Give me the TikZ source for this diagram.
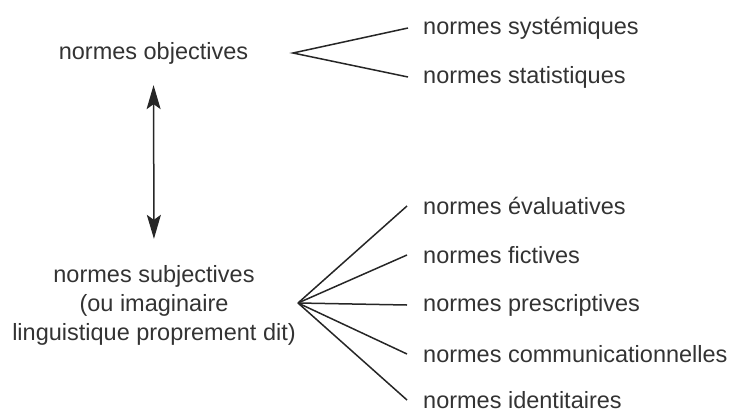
\documentclass[tikz,border=0pt]{standalone}
\usepackage{fontspec}
\setmainfont{Liberation Sans}
\usetikzlibrary{arrows.meta}

\begin{document}
\begin{tikzpicture}[x=1pt,y=-1pt,>={Stealth[length=24pt,width=14pt,inset=5pt]},
		every node/.style={inner sep=0pt,text=black!80,font=\fontsize{23.5}{29}\selectfont},
		norme/.style={anchor=west},
		trait/.style={line width=1.5pt,black!85}]
			%%%	Cadre
			\useasboundingbox (0,0) rectangle (731,413);
			%%%	Normes
			\node (obj) at (153.5,53) {normes objectives};
			\node[align=center] (subj) at (154,305) {normes subjectives\\(ou imaginaire\\linguistique proprement dit)};
			
			\node[norme] (syst) at (423,28) {normes systémiques};
			\node[norme] (stat) at (423,77) {normes statistiques};
			\node[norme] (eval) at (423,206) {normes évaluatives};
			\node[norme] (fict) at (423,255) {normes fictives};
			\node[norme] (presc) at (423,305) {normes prescriptives};
			\node[norme] (comm) at (423,354) {normes communicationnelles};
			\node[norme] (ident) at (423,400) {normes identitaires};
			%%%	Traits
			\coordinate (fourche) at (293,53);
			\coordinate (eventail) at (298,303);
			\draw[trait] ([xshift=-15pt]syst.west) -- (fourche) -- ([xshift=-15pt]stat.west);
			\foreach \n in {eval,fict,presc,comm,ident}
			\draw[trait] (eventail) -- ([xshift=-16pt]\n.west);
			
			\draw[trait,<->,shorten <=21pt,shorten >=26pt] (obj.south) -- (subj.north);
		\end{tikzpicture}
\end{document}
